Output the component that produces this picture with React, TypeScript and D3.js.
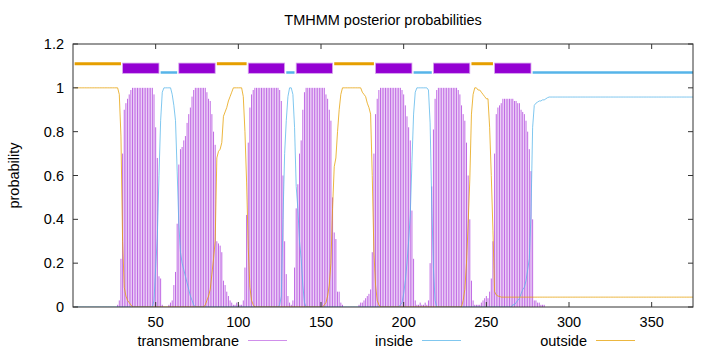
import * as d3 from "d3";

// posterior probability per residue (1..375)
const TM_PROB = [
  0, 0, 0, 0, 0, 0, 0, 0, 0, 0, 0, 0, 0, 0, 0, 0, 0, 0, 0, 0, 0, 0, 0, 0, 0,
  0, 0.01, 0.03, 0.22, 0.7, 0.9, 0.93, 0.95, 0.97, 0.99, 1, 1, 1, 1, 1, 1, 1, 1, 1, 1, 1, 1, 1, 0.97, 0.82,
  0.68, 0.14, 0.13, 0.01, 0, 0, 0, 0.01, 0.02, 0.03, 0.1, 0.16, 0.38, 0.65, 0.72, 0.73, 0.76, 0.78, 0.84, 0.88, 0.91, 0.96, 0.99, 1, 1,
  1, 1, 1, 1, 1, 0.98, 0.95, 0.94, 0.88, 0.8, 0.74, 0.3, 0.29, 0.28, 0.25, 0.12, 0.1, 0.07, 0.05, 0.03, 0.02, 0.01, 0.01, 0.02, 0.01,
  0.01, 0.01, 0.03, 0.18, 0.42, 0.75, 0.91, 0.97, 0.99, 1, 1, 1, 1, 1, 1, 1, 1, 1, 1, 1, 1, 1, 1, 1, 0.99,
  0.94, 0.6, 0.3, 0.15, 0.05, 0.02, 0.01, 0.03, 0.18, 0.45, 0.56, 0.7, 0.76, 0.9, 0.98, 1, 1, 1, 1, 1, 1, 1, 1, 1, 1,
  1, 1, 0.97, 0.95, 0.9, 0.85, 0.5, 0.34, 0.31, 0.07, 0.07, 0.02, 0.01, 0, 0, 0, 0, 0, 0, 0, 0, 0, 0.01, 0.02, 0.02,
  0.03, 0.04, 0.05, 0.06, 0.08, 0.25, 0.7, 0.88, 0.95, 0.99, 1, 1, 1, 1, 1, 1, 1, 1, 1, 1, 1, 1, 1, 0.99, 0.97,
  0.92, 0.87, 0.82, 0.76, 0.44, 0.22, 0.03, 0.01, 0.01, 0.02, 0.01, 0.01, 0.02, 0.01, 0.03, 0.2, 0.55, 0.81, 0.95, 0.99, 1, 1, 1, 1, 1,
  1, 1, 1, 1, 1, 1, 1, 0.99, 0.97, 0.92, 0.88, 0.85, 0.75, 0.6, 0.4, 0.12, 0.03, 0.01, 0.01, 0.01, 0.01, 0.02, 0.03, 0.04, 0.05,
  0.04, 0.07, 0.13, 0.3, 0.7, 0.88, 0.91, 0.92, 0.93, 0.95, 0.95, 0.95, 0.95, 0.95, 0.95, 0.95, 0.94, 0.94, 0.93, 0.93, 0.9, 0.89, 0.88, 0.85, 0.8,
  0.72, 0.62, 0.4, 0.03, 0.03, 0.02, 0.02, 0.01, 0.01, 0.01, 0, 0, 0, 0, 0, 0, 0, 0, 0, 0, 0, 0, 0, 0, 0,
  0, 0, 0, 0, 0, 0, 0, 0, 0, 0, 0, 0, 0, 0, 0, 0, 0, 0, 0, 0, 0, 0, 0, 0, 0,
  0, 0, 0, 0, 0, 0, 0, 0, 0, 0, 0, 0, 0, 0, 0, 0, 0, 0, 0, 0, 0, 0, 0, 0, 0,
  0, 0, 0, 0, 0, 0, 0, 0, 0, 0, 0, 0, 0, 0, 0, 0, 0, 0, 0, 0, 0, 0, 0, 0, 0,
];

const INSIDE_PROB = [
  0, 0, 0, 0, 0, 0, 0, 0, 0, 0, 0, 0, 0, 0, 0, 0, 0, 0, 0, 0, 0, 0, 0, 0, 0,
  0, 0, 0, 0, 0, 0, 0, 0, 0, 0, 0, 0, 0, 0, 0, 0, 0, 0, 0, 0, 0, 0, 0, 0.03, 0.18,
  0.32, 0.6, 0.85, 0.98, 1, 1, 1, 1, 1, 0.97, 0.92, 0.85, 0.62, 0.38, 0.25, 0.2, 0.17, 0.14, 0.11, 0.08, 0.05, 0.03, 0.01, 0, 0,
  0, 0, 0, 0, 0, 0, 0, 0, 0, 0, 0, 0, 0, 0, 0, 0, 0, 0, 0, 0, 0, 0, 0, 0, 0,
  0, 0, 0, 0, 0, 0, 0, 0, 0, 0, 0, 0, 0, 0, 0, 0, 0, 0, 0, 0, 0, 0, 0, 0, 0.01,
  0.05, 0.4, 0.7, 0.85, 0.96, 1, 1, 0.97, 0.82, 0.55, 0.45, 0.3, 0.22, 0.1, 0.02, 0, 0, 0, 0, 0, 0, 0, 0, 0, 0,
  0, 0, 0, 0, 0, 0, 0, 0, 0, 0, 0, 0, 0, 0, 0, 0, 0, 0, 0, 0, 0, 0, 0, 0, 0,
  0, 0, 0, 0, 0, 0, 0, 0, 0, 0, 0, 0, 0, 0, 0, 0, 0, 0, 0, 0, 0, 0, 0.01, 0.02, 0.06,
  0.12, 0.2, 0.3, 0.42, 0.66, 0.88, 0.98, 1, 1, 1, 1, 1, 1, 1, 0.99, 0.84, 0.47, 0.18, 0.03, 0, 0, 0, 0, 0, 0,
  0, 0, 0, 0, 0, 0, 0, 0, 0, 0, 0, 0, 0, 0, 0, 0, 0, 0, 0, 0, 0, 0, 0, 0, 0,
  0, 0, 0, 0, 0, 0, 0, 0, 0, 0, 0, 0, 0, 0, 0, 0.01, 0.01, 0.02, 0.03, 0.04, 0.06, 0.08, 0.09, 0.12, 0.17,
  0.22, 0.42, 0.82, 0.92, 0.93, 0.935, 0.94, 0.94, 0.945, 0.945, 0.95, 0.955, 0.958, 0.958, 0.958, 0.958, 0.958, 0.958, 0.958, 0.958, 0.958, 0.958, 0.958, 0.958, 0.958,
  0.958, 0.958, 0.958, 0.958, 0.958, 0.958, 0.958, 0.958, 0.958, 0.958, 0.958, 0.958, 0.958, 0.958, 0.958, 0.958, 0.958, 0.958, 0.958, 0.958, 0.958, 0.958, 0.958, 0.958, 0.958,
  0.958, 0.958, 0.958, 0.958, 0.958, 0.958, 0.958, 0.958, 0.958, 0.958, 0.958, 0.958, 0.958, 0.958, 0.958, 0.958, 0.958, 0.958, 0.958, 0.958, 0.958, 0.958, 0.958, 0.958, 0.958,
  0.958, 0.958, 0.958, 0.958, 0.958, 0.958, 0.958, 0.958, 0.958, 0.958, 0.958, 0.958, 0.958, 0.958, 0.958, 0.958, 0.958, 0.958, 0.958, 0.958, 0.958, 0.958, 0.958, 0.958, 0.958,
];

const OUTSIDE_PROB = [
  1, 1, 1, 1, 1, 1, 1, 1, 1, 1, 1, 1, 1, 1, 1, 1, 1, 1, 1, 1, 1, 1, 1, 1, 1,
  1, 1, 0.97, 0.78, 0.3, 0.09, 0.05, 0.03, 0.02, 0.01, 0, 0, 0, 0, 0, 0, 0, 0, 0, 0, 0, 0, 0, 0, 0,
  0, 0, 0, 0, 0, 0, 0, 0, 0, 0, 0, 0, 0, 0, 0, 0, 0, 0, 0, 0, 0, 0, 0, 0, 0,
  0, 0, 0, 0, 0.01, 0.03, 0.05, 0.08, 0.15, 0.22, 0.3, 0.68, 0.71, 0.72, 0.75, 0.87, 0.89, 0.91, 0.94, 0.96, 0.98, 1, 1, 1, 1,
  1, 1, 0.96, 0.8, 0.57, 0.27, 0.09, 0.03, 0.01, 0, 0, 0, 0, 0, 0, 0, 0, 0, 0, 0, 0, 0, 0, 0, 0,
  0, 0, 0, 0, 0, 0, 0, 0, 0, 0, 0, 0, 0, 0, 0, 0, 0, 0, 0, 0, 0, 0, 0, 0, 0,
  0, 0.01, 0.02, 0.05, 0.1, 0.2, 0.45, 0.64, 0.68, 0.8, 0.9, 0.97, 1, 1, 1, 1, 1, 1, 1, 1, 1, 1, 1, 1, 0.98,
  0.97, 0.96, 0.93, 0.91, 0.88, 0.6, 0.25, 0.1, 0.03, 0.01, 0, 0, 0, 0, 0, 0, 0, 0, 0, 0, 0, 0, 0, 0, 0,
  0, 0, 0, 0, 0, 0, 0, 0, 0, 0, 0, 0, 0, 0, 0, 0, 0, 0, 0, 0, 0, 0, 0, 0, 0,
  0, 0, 0, 0, 0, 0, 0, 0, 0, 0, 0.03, 0.08, 0.2, 0.38, 0.58, 0.88, 0.97, 1, 1, 0.99, 0.99, 0.98, 0.97, 0.96, 0.95,
  0.95, 0.82, 0.6, 0.35, 0.07, 0.055, 0.05, 0.048, 0.045, 0.045, 0.045, 0.045, 0.045, 0.045, 0.045, 0.045, 0.045, 0.045, 0.045, 0.045, 0.045, 0.045, 0.045, 0.045, 0.045,
  0.045, 0.045, 0.045, 0.045, 0.045, 0.045, 0.045, 0.045, 0.045, 0.045, 0.045, 0.045, 0.045, 0.045, 0.045, 0.045, 0.045, 0.045, 0.045, 0.045, 0.045, 0.045, 0.045, 0.045, 0.045,
  0.045, 0.045, 0.045, 0.045, 0.045, 0.045, 0.045, 0.045, 0.045, 0.045, 0.045, 0.045, 0.045, 0.045, 0.045, 0.045, 0.045, 0.045, 0.045, 0.045, 0.045, 0.045, 0.045, 0.045, 0.045,
  0.045, 0.045, 0.045, 0.045, 0.045, 0.045, 0.045, 0.045, 0.045, 0.045, 0.045, 0.045, 0.045, 0.045, 0.045, 0.045, 0.045, 0.045, 0.045, 0.045, 0.045, 0.045, 0.045, 0.045, 0.045,
  0.045, 0.045, 0.045, 0.045, 0.045, 0.045, 0.045, 0.045, 0.045, 0.045, 0.045, 0.045, 0.045, 0.045, 0.045, 0.045, 0.045, 0.045, 0.045, 0.045, 0.045, 0.045, 0.045, 0.045, 0.045,
];

// predicted topology
const TOPO_TYPE = [
  "outside", "TMhelix", "inside", "TMhelix", "outside", "TMhelix", "inside", "TMhelix",
  "outside", "TMhelix", "inside", "TMhelix", "outside", "TMhelix", "inside",
];
const TOPO_START = [1, 30, 53, 64, 87, 106, 129, 135, 158, 183, 206, 218, 241, 255, 278];
const TOPO_END = [29, 52, 63, 86, 105, 128, 134, 157, 182, 205, 217, 240, 254, 277, 375];

const X_TICKS = [50, 100, 150, 200, 250, 300, 350];
const Y_TICKS = [0, 0.2, 0.4, 0.6, 0.8, 1, 1.2];
const Y_TICK_LABELS = ["0", "0.2", "0.4", "0.6", "0.8", "1", "1.2"];

const LEGEND = ["transmembrane", "inside", "outside"];

const PURPLE = "#9400d3";
const IMPULSE = "#c06ae4";
const BLUE = "#56b4e9";
const ORANGE = "#e69f00";
const FONT = "'Liberation Sans', Arial, sans-serif";

const W = 720;
const H = 352;
const M = { left: 73, right: 693, top: 44, bottom: 307 };

export default function App() {
  const x = d3.scaleLinear().domain([0, 375]).range([M.left, M.right]);
  const y = d3.scaleLinear().domain([0, 1.2]).range([M.bottom, M.top]);

  const residues = TM_PROB.map((_, i) => i + 1);

  const line = d3
    .line<number>()
    .x((_, i) => x(i + 1))
    .y((d) => y(d));

  const legendColors = [IMPULSE, BLUE, ORANGE];

  return (
    <svg
      width={W}
      height={H}
      style={{ position: "absolute", left: 0, top: 0, background: "#fff" }}
      fontFamily={FONT}
    >
      <defs>
        <clipPath id="plot">
          <rect x={M.left} y={M.top} width={M.right - M.left} height={M.bottom - M.top} />
        </clipPath>
      </defs>

      <text x={383} y={25} textAnchor="middle" fontSize={14.5} fill="#000">
        TMHMM posterior probabilities
      </text>

      {/* axis labels */}
      {Y_TICKS.map((t, i) => (
        <text
          key={"yl" + t}
          x={64}
          y={y(t)}
          dy="0.35em"
          textAnchor="end"
          fontSize={14.5}
        >
          {Y_TICK_LABELS[i]}
        </text>
      ))}
      {X_TICKS.map((t) => (
        <text key={"xl" + t} x={x(t)} y={327} textAnchor="middle" fontSize={14.5}>
          {t}
        </text>
      ))}
      <text
        transform={`translate(19,${(M.top + M.bottom) / 2}) rotate(-90)`}
        textAnchor="middle"
        fontSize={14.5}
      >
        probability
      </text>

      <g clipPath="url(#plot)">
        {/* transmembrane impulses */}
        {residues.map((r, i) =>
          TM_PROB[i] > 0 ? (
            <line
              key={"imp" + r}
              x1={x(r)}
              x2={x(r)}
              y1={y(0)}
              y2={y(TM_PROB[i])}
              stroke={IMPULSE}
              strokeWidth={1}
            />
          ) : null,
        )}
        <path d={line(INSIDE_PROB) ?? ""} fill="none" stroke={BLUE} strokeWidth={1} strokeOpacity={0.75} />
        <path d={line(OUTSIDE_PROB) ?? ""} fill="none" stroke={ORANGE} strokeWidth={1} strokeOpacity={0.75} />

        {/* topology bar */}
        {TOPO_TYPE.map((t, i) => {
          const x0 = x(TOPO_START[i]);
          const x1 = x(TOPO_END[i]);
          if (t === "TMhelix") {
            return (
              <rect
                key={"topo" + i}
                x={x0}
                y={y(1.113)}
                width={x1 - x0}
                height={y(1.066) - y(1.113)}
                fill={PURPLE}
                stroke="#d7a5ee"
                strokeWidth={0.8}
              />
            );
          }
          const yy = t === "outside" ? y(1.11) : y(1.07);
          return (
            <line
              key={"topo" + i}
              x1={x0}
              x2={x1}
              y1={yy}
              y2={yy}
              stroke={t === "outside" ? ORANGE : BLUE}
              strokeWidth={t === "outside" ? 3 : 2.5}
            />
          );
        })}
      </g>

      {/* frame + ticks */}
      <rect
        x={M.left}
        y={M.top}
        width={M.right - M.left}
        height={M.bottom - M.top}
        fill="none"
        stroke="#333"
        strokeWidth={1}
      />
      {X_TICKS.map((t) => (
        <g key={"xt" + t} stroke="#333" strokeWidth={1}>
          <line x1={x(t)} x2={x(t)} y1={M.bottom} y2={M.bottom - 5} />
          <line x1={x(t)} x2={x(t)} y1={M.top} y2={M.top + 5} />
        </g>
      ))}
      {Y_TICKS.map((t) => (
        <g key={"yt" + t} stroke="#333" strokeWidth={1}>
          <line x1={M.left} x2={M.left + 5} y1={y(t)} y2={y(t)} />
          <line x1={M.right} x2={M.right - 5} y1={y(t)} y2={y(t)} />
        </g>
      ))}

      {/* legend */}
      {LEGEND.map((name, i) => {
        const right = 239 + i * 174;
        return (
          <g key={name}>
            <text x={right} y={346} textAnchor="end" fontSize={14.5}>
              {name}
            </text>
            <line
              x1={right + 9}
              x2={right + 48}
              y1={340.5}
              y2={340.5}
              stroke={legendColors[i]}
              strokeWidth={1}
              strokeOpacity={0.75}
            />
          </g>
        );
      })}
    </svg>
  );
}
